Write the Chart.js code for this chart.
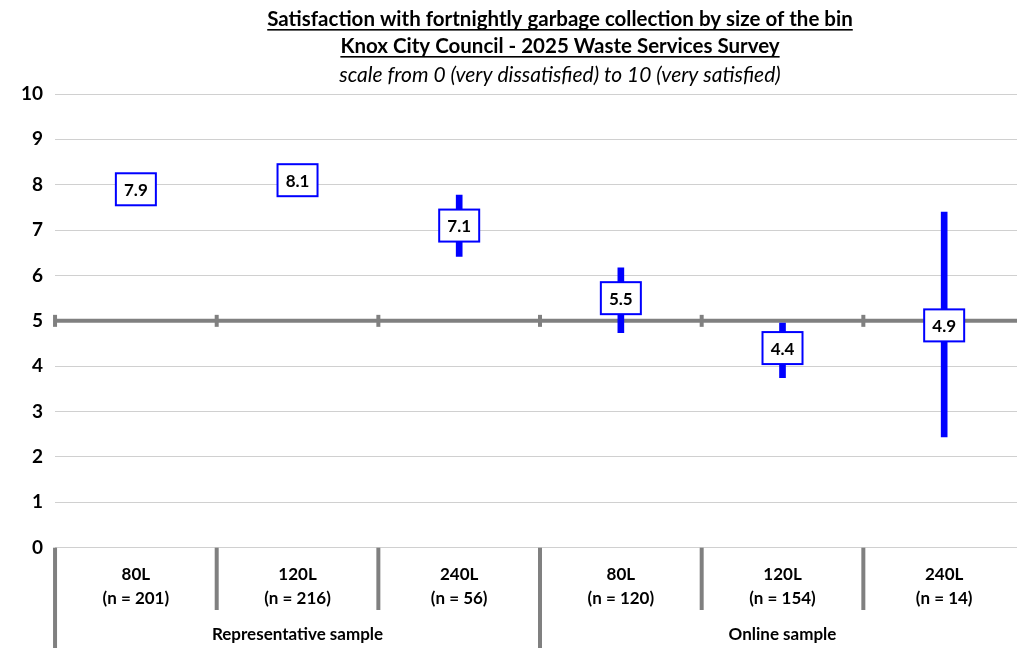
<!DOCTYPE html>
<html lang="en">
<head>
    <meta charset="UTF-8">
    <title>Satisfaction with fortnightly garbage collection</title>
    <script src="https://cdn.jsdelivr.net/npm/chart.js"></script>
    <style>
        html, body { margin: 0; padding: 0; background: #fff; overflow: hidden; }
        #wrap { width: 1025px; height: 648px; }
    </style>
</head>
<body>
    <div id="wrap"><canvas id="myChart"></canvas></div>

    <script>
        // Data
        const binSizes = ['80L', '120L', '240L', '80L', '120L', '240L'];
        const sampleSizes = ['(n = 201)', '(n = 216)', '(n = 56)', '(n = 120)', '(n = 154)', '(n = 14)'];
        const groups = ['Representative sample', 'Online sample'];
        const meanScores = [7.9, 8.1, 7.1, 5.5, 4.4, 4.9];
        const ciLower = [7.65, 7.85, 6.42, 4.74, 3.75, 2.44];
        const ciUpper = [8.15, 8.35, 7.77, 6.17, 4.95, 7.40];
        const referenceLine = 5;

        const titleLines = [
            'Satisfaction with fortnightly garbage collection by size of the bin',
            'Knox City Council - 2025 Waste Services Survey'
        ];
        const subtitle = 'scale from 0 (very dissatisfied) to 10 (very satisfied)';

        const FONT = 'Lato, "Open Sans", sans-serif';
        const BLUE = '#0000ff';
        const GREY = '#808080';

        const labels = binSizes.map((b, i) => [b, sampleSizes[i]]);

        // titles, reference line, value boxes, separators and group labels
        const extras = {
            id: 'extras',
            beforeDatasetsDraw(chart) {
                const ctx = chart.ctx;
                const x = chart.scales.x, y = chart.scales.y;
                const yRef = y.getPixelForValue(referenceLine);
                const half = (x.getPixelForValue(1) - x.getPixelForValue(0)) / 2;
                ctx.save();
                ctx.strokeStyle = GREY;
                ctx.lineWidth = 4;
                ctx.beginPath();
                ctx.moveTo(chart.chartArea.left, yRef);
                ctx.lineTo(chart.chartArea.right, yRef);
                ctx.stroke();
                for (let i = 0; i <= binSizes.length; i++) {
                    const px = x.getPixelForValue(0) - half + i * 2 * half;
                    ctx.beginPath();
                    ctx.moveTo(px, yRef - 6);
                    ctx.lineTo(px, yRef + 6);
                    ctx.stroke();
                }
                ctx.restore();
            },
            afterDraw(chart) {
                const ctx = chart.ctx;
                const x = chart.scales.x;
                const half = (x.getPixelForValue(1) - x.getPixelForValue(0)) / 2;
                ctx.save();

                // titles
                const cx = 560;
                ctx.fillStyle = '#000';
                ctx.textAlign = 'center';
                ctx.textBaseline = 'alphabetic';
                ctx.font = 'bold 20.5px ' + FONT;
                titleLines.forEach((t, i) => {
                    const ty = 26 + i * 27;
                    ctx.fillText(t, cx, ty);
                    const w = ctx.measureText(t).width;
                    ctx.fillRect(cx - w / 2, ty + 3, w, 1.6);
                });
                ctx.font = 'italic 21px ' + FONT;
                ctx.fillText(subtitle, cx, 82);

                // value boxes
                const meta = chart.getDatasetMeta(1);
                ctx.font = 'bold 17px ' + FONT;
                ctx.textBaseline = 'middle';
                meta.data.forEach((pt, i) => {
                    const bw = 40, bh = 32;
                    ctx.fillStyle = '#fff';
                    ctx.fillRect(pt.x - bw / 2, pt.y - bh / 2, bw, bh);
                    ctx.strokeStyle = BLUE;
                    ctx.lineWidth = 2;
                    ctx.strokeRect(pt.x - bw / 2, pt.y - bh / 2, bw, bh);
                    ctx.fillStyle = '#000';
                    ctx.fillText(meanScores[i].toFixed(1), pt.x, pt.y + 1);
                });

                // category separators below the axis
                const bottom = chart.chartArea.bottom;
                ctx.strokeStyle = GREY;
                ctx.lineWidth = 4;
                const perGroup = binSizes.length / groups.length;
                for (let i = 0; i <= binSizes.length; i++) {
                    const px = x.getPixelForValue(0) - half + i * 2 * half;
                    const end = (i % perGroup === 0) ? chart.height : 610;
                    ctx.beginPath();
                    ctx.moveTo(px, bottom);
                    ctx.lineTo(px, end);
                    ctx.stroke();
                }

                // group labels
                ctx.fillStyle = '#000';
                ctx.font = 'bold 17px ' + FONT;
                groups.forEach((g, gi) => {
                    const left = x.getPixelForValue(gi * perGroup) - half;
                    const right = x.getPixelForValue(gi * perGroup + perGroup - 1) + half;
                    ctx.fillText(g, (left + right) / 2, 635);
                });
                ctx.restore();
            }
        };

        const data = {
            labels: labels,
            datasets: [{
                type: 'bar',
                label: 'Confidence interval',
                data: ciLower.map((lo, i) => [lo, ciUpper[i]]),
                backgroundColor: BLUE,
                barThickness: 6,
                order: 2
            }, {
                type: 'line',
                label: 'Average satisfaction',
                data: meanScores,
                showLine: false,
                pointRadius: 0,
                order: 1
            }]
        };

        const config = {
            data: data,
            plugins: [extras],
            options: {
                responsive: true,
                maintainAspectRatio: false,
                animation: false,
                layout: { padding: { top: 94, left: 9, right: 0, bottom: 31 } },
                plugins: {
                    legend: { display: false },
                    tooltip: { enabled: false }
                },
                scales: {
                    x: {
                        offset: true,
                        grid: { display: false },
                        border: { display: false },
                        ticks: {
                            color: '#000',
                            font: { family: FONT, size: 17, weight: 'bold', lineHeight: 1.45 },
                            padding: 6,
                            maxRotation: 0,
                            autoSkip: false
                        }
                    },
                    y: {
                        min: 0,
                        max: 10,
                        ticks: {
                            stepSize: 1,
                            color: '#000',
                            padding: 12,
                            font: { family: FONT, size: 19, weight: 'bold' }
                        },
                        grid: { color: '#d0d0d0', lineWidth: 1, drawTicks: false },
                        border: { display: false }
                    }
                }
            }
        };

        new Chart(document.getElementById('myChart'), config);
    </script>
</body>
</html>
